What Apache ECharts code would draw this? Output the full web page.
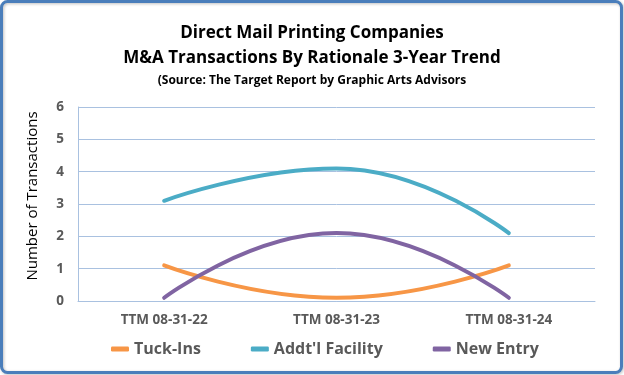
<!DOCTYPE html>
<html>
<head>
<meta charset="utf-8">
<script src="https://cdn.jsdelivr.net/npm/echarts@6/dist/echarts.min.js"></script>
<style>
  html, body { margin: 0; padding: 0; background: #fff; }
  #main { width: 624px; height: 375px; }
</style>
</head>
<body>
<div id="main"></div>
<script>
// data
const periods = ['TTM 08-31-22', 'TTM 08-31-23', 'TTM 08-31-24']
const tuckIns = [1.1, 0.1, 1.1]
const addtlFacility = [3.1, 4.1, 2.1]
const newEntry = [0.1, 2.1, 0.1]
const seriesNames = ['Tuck-Ins', "Addt'l Facility", 'New Entry']
const seriesColors = ['#F79646', '#4BACC6', '#8064A2']

const font = '"Open Sans", "Noto Sans", sans-serif'
const gray = '#595959'
const gridBlue = '#A9C1E0'

const chart = echarts.init(document.getElementById('main'))

function lineSeries (name, data, color) {
  return {
    name: name,
    type: 'line',
    data: data,
    smooth: 0.5,
    symbol: 'none',
    lineStyle: { color: color, width: 4, cap: 'round' },
    itemStyle: { color: color }
  }
}

const option = {
  backgroundColor: '#fff',
  animation: false,
  graphic: [
    {
      type: 'rect',
      shape: { x: 1.5, y: 1.5, width: 620, height: 371, r: 6 },
      style: {
        fill: 'none',
        stroke: '#4A7EBB',
        lineWidth: 3,
        shadowColor: 'rgba(0,0,0,0.25)',
        shadowBlur: 3,
        shadowOffsetX: 1,
        shadowOffsetY: 1
      },
      z: 100
    }
  ],
  title: {
    text: 'Direct Mail Printing Companies\nM&A Transactions By Rationale 3-Year Trend',
    subtext: '(Source: The Target Report by Graphic Arts Advisors',
    left: 'center',
    top: 16,
    itemGap: 4,
    textStyle: {
      fontFamily: font,
      fontSize: 17,
      fontWeight: 'bold',
      color: '#000',
      lineHeight: 25
    },
    subtextStyle: {
      fontFamily: font,
      fontSize: 12,
      fontWeight: 'bold',
      color: '#000'
    }
  },
  legend: {
    data: seriesNames,
    bottom: 13,
    left: 106,
    itemGap: 50,
    itemWidth: 18,
    itemHeight: 5,
    icon: 'roundRect',
    textStyle: {
      fontFamily: font,
      fontSize: 16,
      fontWeight: 'bold',
      color: gray
    }
  },
  grid: {
    left: 78,
    right: 29,
    top: 107,
    bottom: 74
  },
  xAxis: {
    type: 'category',
    data: periods,
    boundaryGap: true,
    axisLine: { lineStyle: { color: gridBlue, width: 1 } },
    axisTick: { show: false },
    axisLabel: {
      fontFamily: font,
      fontSize: 13.5,
      fontWeight: 'bold',
      color: gray,
      margin: 12
    }
  },
  yAxis: {
    type: 'value',
    min: 0,
    max: 6,
    interval: 1,
    name: 'Number of Transactions',
    nameLocation: 'middle',
    nameGap: 38,
    nameTextStyle: {
      fontFamily: font,
      fontSize: 15,
      color: '#000',
      padding: [0, 0, 0, 16]
    },
    axisLine: { show: true, lineStyle: { color: gridBlue, width: 1 } },
    axisTick: { show: false },
    splitLine: { lineStyle: { color: gridBlue, width: 1 } },
    axisLabel: {
      fontFamily: font,
      fontSize: 13.5,
      fontWeight: 'bold',
      color: gray,
      margin: 14
    }
  },
  series: [
    lineSeries(seriesNames[0], tuckIns, seriesColors[0]),
    lineSeries(seriesNames[1], addtlFacility, seriesColors[1]),
    lineSeries(seriesNames[2], newEntry, seriesColors[2])
  ]
}

chart.setOption(option)
</script>
</body>
</html>
